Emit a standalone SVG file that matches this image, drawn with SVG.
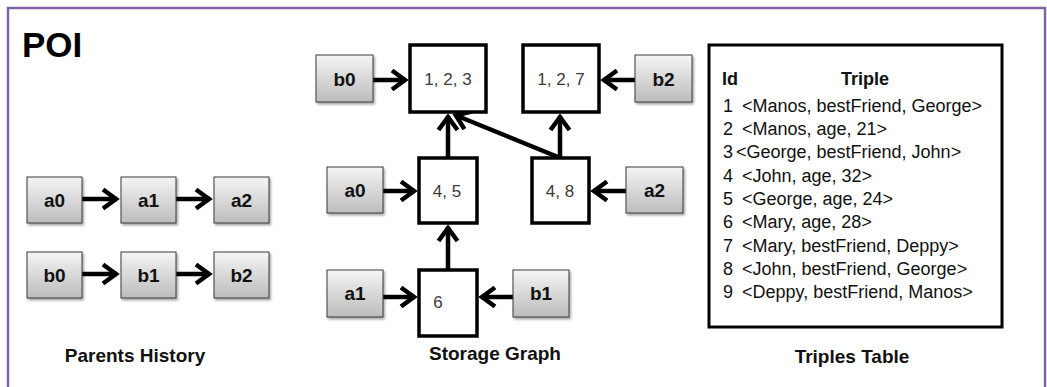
<svg xmlns="http://www.w3.org/2000/svg" width="1047" height="387" viewBox="0 0 1047 387">
<style>
.g{fill:url(#gg);stroke:#3a3a3a;stroke-width:1;filter:url(#sh)}
.w{fill:#fff;stroke:#000;stroke-width:3.5}
.gl{font-family:"Liberation Sans",Arial,sans-serif;font-weight:bold;font-size:19px;fill:#111;text-anchor:middle}
.wl{font-family:"Liberation Sans",Arial,sans-serif;font-size:17px;fill:#3a3a3a;text-anchor:middle}
.tt{font-family:"Liberation Sans",Arial,sans-serif;font-size:18px;fill:#111}
.hd{font-family:"Liberation Sans",Arial,sans-serif;font-weight:bold;font-size:18px;fill:#111}
.ti{font-family:"Liberation Sans",Arial,sans-serif;font-weight:bold;font-size:19px;fill:#111;text-anchor:middle}
.c line{stroke:#000;stroke-width:4.5;marker-end:url(#ah)}
</style>
<defs>
<linearGradient id="gg" x1="0" y1="0" x2="0" y2="1">
<stop offset="0" stop-color="#f5f5f5"/><stop offset="1" stop-color="#bcbcbc"/>
</linearGradient>
<filter id="sh" x="-20%" y="-20%" width="150%" height="150%">
<feDropShadow dx="1.5" dy="2" stdDeviation="1.2" flood-color="#000" flood-opacity="0.35"/>
</filter>
<marker id="ah" markerUnits="userSpaceOnUse" viewBox="-20 -14 24 28" refX="0" refY="0" markerWidth="24" markerHeight="28" orient="auto" overflow="visible">
<path d="M-14,-9.5 L-1,0 L-14,9.5" fill="none" stroke="#000" stroke-width="4.5"/>
</marker>
</defs>
<rect x="0" y="0" width="1047" height="387" fill="#fff"/>
<rect id="frame" x="8" y="8" width="1037" height="400" fill="#fff" stroke="#8064A2" stroke-width="2.5"/>
<text x="22" y="57" font-family="Liberation Sans,Arial,sans-serif" font-weight="bold" font-size="35" fill="#000">POI</text>

<g class="c" id="connectors">
<line x1="82" y1="199" x2="117" y2="199"/>
<line x1="176" y1="199" x2="210" y2="199"/>
<line x1="82" y1="274" x2="117" y2="274"/>
<line x1="176" y1="274" x2="210" y2="274"/>
<line x1="373" y1="80" x2="406" y2="80"/>
<line x1="635" y1="80" x2="603" y2="80"/>
<line x1="383" y1="191" x2="415" y2="191"/>
<line x1="626" y1="191" x2="593" y2="191"/>
<line x1="448" y1="270" x2="448" y2="227"/>
<line x1="448" y1="158" x2="448" y2="116"/>
<line x1="560" y1="158" x2="560" y2="116"/>
<line x1="558" y1="157" x2="455" y2="115"/>
<line x1="383" y1="297" x2="415" y2="297"/>
<line x1="513" y1="297" x2="481" y2="297"/>
</g>

<g id="ph-a0"><rect class="g" x="27" y="177" width="55" height="46"/><text class="gl" x="54.5" y="207">a0</text></g>
<g id="ph-a1"><rect class="g" x="121" y="177" width="55" height="46"/><text class="gl" x="148.5" y="207">a1</text></g>
<g id="ph-a2"><rect class="g" x="214" y="177" width="55" height="46"/><text class="gl" x="241.5" y="207">a2</text></g>
<g id="ph-b0"><rect class="g" x="27" y="252" width="55" height="46"/><text class="gl" x="54.5" y="282">b0</text></g>
<g id="ph-b1"><rect class="g" x="121" y="252" width="55" height="46"/><text class="gl" x="148.5" y="282">b1</text></g>
<g id="ph-b2"><rect class="g" x="214" y="252" width="55" height="46"/><text class="gl" x="241.5" y="282">b2</text></g>
<text class="ti" x="135" y="362">Parents History</text>

<g id="sg-b0"><rect class="g" x="316" y="55" width="57" height="47"/><text class="gl" x="344.5" y="86">b0</text></g>
<g id="sg-123"><rect class="w" x="410" y="45" width="76" height="67"/><text class="wl" x="448" y="85">1, 2, 3</text></g>
<g id="sg-127"><rect class="w" x="523" y="45" width="76" height="67"/><text class="wl" x="561" y="85">1, 2, 7</text></g>
<g id="sg-b2"><rect class="g" x="635" y="55" width="57" height="47"/><text class="gl" x="663.5" y="86">b2</text></g>
<g id="sg-a0"><rect class="g" x="327" y="167" width="56" height="46"/><text class="gl" x="355" y="197">a0</text></g>
<g id="sg-45"><rect class="w" x="419" y="158" width="58" height="65"/><text class="wl" x="447" y="197">4, 5</text></g>
<g id="sg-48"><rect class="w" x="532" y="158" width="57" height="65"/><text class="wl" x="560" y="197">4, 8</text></g>
<g id="sg-a2"><rect class="g" x="626" y="167" width="57" height="46"/><text class="gl" x="654.5" y="197">a2</text></g>
<g id="sg-a1"><rect class="g" x="327" y="270" width="56" height="47"/><text class="gl" x="355" y="300">a1</text></g>
<g id="sg-6"><rect class="w" x="419" y="270" width="58" height="66"/><text class="wl" x="438" y="308">6</text></g>
<g id="sg-b1"><rect class="g" x="513" y="270" width="56" height="47"/><text class="gl" x="541" y="300">b1</text></g>
<text class="ti" x="495" y="360">Storage Graph</text>

<g id="triples-table">
<rect x="709" y="45" width="293" height="282" fill="#fff" stroke="#000" stroke-width="3"/>
<text class="hd" x="722" y="85">Id</text>
<text class="hd" x="865" y="85" text-anchor="middle">Triple</text>
<text class="tt" x="723" y="112">1</text><text class="tt" x="742" y="112">&lt;Manos, bestFriend, George&gt;</text>
<text class="tt" x="723" y="135">2</text><text class="tt" x="742" y="135">&lt;Manos, age, 21&gt;</text>
<text class="tt" x="723" y="158">3</text><text class="tt" x="736" y="158">&lt;George, bestFriend, John&gt;</text>
<text class="tt" x="723" y="182">4</text><text class="tt" x="742" y="182">&lt;John, age, 32&gt;</text>
<text class="tt" x="723" y="205">5</text><text class="tt" x="742" y="205">&lt;George, age, 24&gt;</text>
<text class="tt" x="723" y="228">6</text><text class="tt" x="742" y="228">&lt;Mary, age, 28&gt;</text>
<text class="tt" x="723" y="252">7</text><text class="tt" x="742" y="252">&lt;Mary, bestFriend, Deppy&gt;</text>
<text class="tt" x="723" y="275">8</text><text class="tt" x="742" y="275">&lt;John, bestFriend, George&gt;</text>
<text class="tt" x="723" y="298">9</text><text class="tt" x="742" y="298">&lt;Deppy, bestFriend, Manos&gt;</text>
</g>
<text class="ti" x="852" y="363">Triples Table</text>
</svg>
